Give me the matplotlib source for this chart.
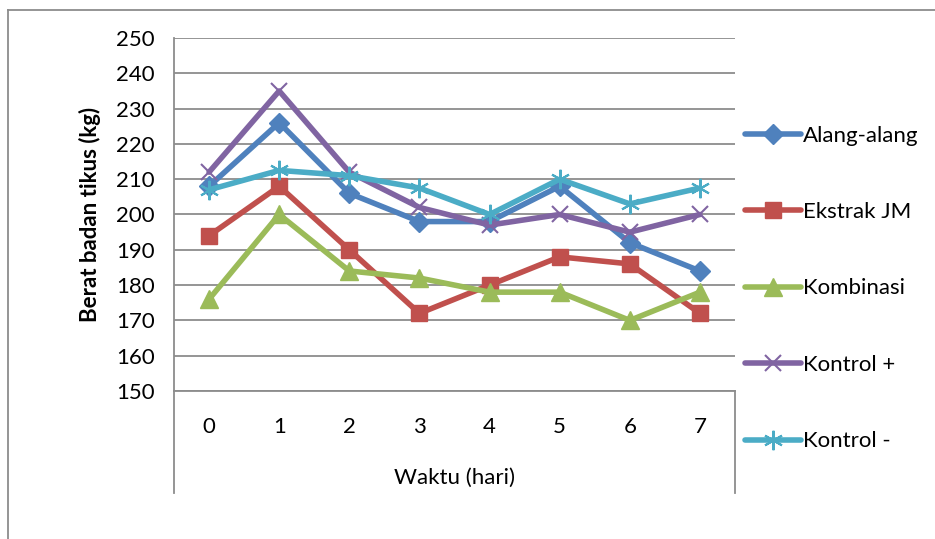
import matplotlib.pyplot as plt
from matplotlib.lines import Line2D

plt.rcParams['font.family'] = ['Lato', 'DejaVu Sans']

# ── data ──────────────────────────────────────────────────────────────────────
hari = [0, 1, 2, 3, 4, 5, 6, 7]
alang = [208, 226, 206, 198, 198, 208, 192, 184]
ekstrak = [194, 208, 190, 172, 180, 188, 186, 172]
kombinasi = [176, 200, 184, 182, 178, 178, 170, 178]
kontrol_pos = [212, 235, 212, 202, 197, 200, 195, 200]
kontrol_neg = [207, 212.5, 211, 207.5, 200, 210, 203, 207.5]
labels = ['Alang-alang', 'Ekstrak JM', 'Kombinasi', 'Kontrol +', 'Kontrol -']

series = [
    (alang,       '#4F81BD', 'D', 10),
    (ekstrak,     '#C0504D', 's', 12),
    (kombinasi,   '#9BBB59', '^', 13),
    (kontrol_pos, '#8064A2', 'x', 12),
    (kontrol_neg, '#4BACC6', (6, 2, 0), 14),
]

fig = plt.figure(figsize=(9.35, 5.39), dpi=100)
ax = fig.add_axes([0.1861, 0.2746, 0.6, 0.6549])

grid_c = '#8C8C8C'
for lbl, (vals, col, mk, ms) in zip(labels, series):
    thin = mk in ('x', (6, 2, 0))
    ax.plot(hari, vals, color=col, lw=4.0, solid_capstyle='round',
            label=lbl, marker=mk, ms=ms, mew=1.5 if thin else 1.0,
            mec=col, mfc=col, zorder=3)

ax.set_xlim(-0.5, 7.5)
ax.set_ylim(150, 250)
ax.set_yticks(range(150, 251, 10))
ax.set_xticks(hari)
ax.grid(axis='y', color=grid_c, lw=1.3)
ax.set_axisbelow(True)
for s in ['top', 'right']:
    ax.spines[s].set_visible(False)
for s in ['left', 'bottom']:
    ax.spines[s].set_color(grid_c)
    ax.spines[s].set_linewidth(1.3)
ax.tick_params(axis='both', length=0, labelsize=16, colors='black')
ax.tick_params(axis='y', pad=14)
ax.tick_params(axis='x', pad=19)

# category box lines below plot
drop = -(493 - 391) / 353
for xx in (0, 1):
    ax.plot([xx, xx], [0, drop], transform=ax.transAxes, color=grid_c,
            lw=1.3, clip_on=False)

ax.set_xlabel('Waktu (hari)', fontsize=16, labelpad=22)
ax.set_ylabel('Berat badan tikus (kg)', fontsize=16, fontweight='bold',
              labelpad=11)

ax.legend(loc='upper left', bbox_to_anchor=(0.797, 0.767),
          bbox_transform=fig.transFigure, frameon=False, fontsize=16,
          handlelength=2.5, handletextpad=0.12, labelspacing=2.54,
          borderaxespad=0, borderpad=0)

# outer chart border (left + top visible)
fig.add_artist(Line2D([8 / 935, 8 / 935], [0, 1 - 10 / 539], color=grid_c,
                      lw=1.3))
fig.add_artist(Line2D([8 / 935, 1], [1 - 10 / 539, 1 - 10 / 539],
                      color=grid_c, lw=1.3))

fig.savefig('out.png', dpi=100)
